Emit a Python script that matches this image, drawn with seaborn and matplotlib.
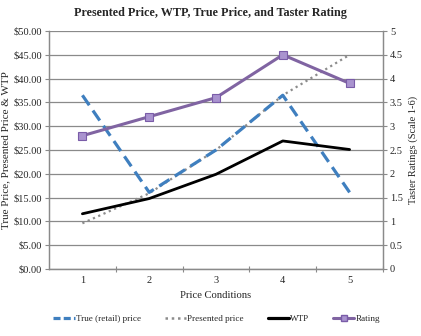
import matplotlib
matplotlib.use("Agg")
import matplotlib.pyplot as plt
import seaborn as sns
import pandas as pd
from matplotlib.lines import Line2D

conditions = [1, 2, 3, 4, 5]
true_price = [36.5, 16.1, 25.0, 36.5, 16.1]
presented_price = [9.6, 15.9, 25.0, 36.5, 45.0]
wtp = [11.6, 14.8, 19.9, 26.9, 25.1]
rating = [2.8, 3.2, 3.6, 4.5, 3.9]

df = pd.DataFrame({
    "cond": conditions,
    "true": true_price,
    "presented": presented_price,
    "wtp": wtp,
    "rating": rating,
})

sns.set_theme(style="white")
plt.rcParams["font.family"] = ["Liberation Serif", "DejaVu Serif"]

fig = plt.figure(figsize=(4.21, 3.36), dpi=100)
ax = fig.add_axes([49 / 421, 1 - 269 / 336, 334 / 421, 238 / 336])
ax2 = ax.twinx()

c_blue = "#3f7fbf"
c_gray = "#8c8c8c"
c_purple = "#8064a2"

sns.lineplot(data=df, x="cond", y="presented", ax=ax, color=c_gray, lw=1.6,
             linestyle=(0, (1, 1.6)))
sns.lineplot(data=df, x="cond", y="true", ax=ax, color=c_blue, lw=2.3,
             linestyle=(0, (3.8, 2.0)))
sns.lineplot(data=df, x="cond", y="wtp", ax=ax, color="black", lw=2.0)
sns.lineplot(data=df, x="cond", y="rating", ax=ax2, color=c_purple, lw=2.2,
             marker="s", markersize=6, markerfacecolor="#a993cf",
             markeredgecolor="#7a5ca8", markeredgewidth=0.8)

ax.set_xlim(0.5, 5.5)
ax.set_ylim(0, 50)
ax2.set_ylim(0, 5)
ax.set_yticks([i * 5 for i in range(11)])
ax.set_yticklabels([f"${i * 5:.2f}" for i in range(11)])
ax2.set_yticks([i * 0.5 for i in range(11)])
ax2.set_yticklabels(["0", "0.5", "1", "1.5", "2", "2.5", "3", "3.5", "4", "4.5", "5"])
ax.set_xticks(conditions)
ax.set_xticklabels([str(c) for c in conditions])
ax.set_xticks([1.5, 2.5, 3.5, 4.5, 5.5], minor=True)

ax.grid(axis="y", color="#8a8a8a", lw=0.9)
ax.set_axisbelow(True)
for a in (ax, ax2):
    for s in a.spines.values():
        s.set_color("#8a8a8a")
        s.set_linewidth(0.9)
    a.spines["top"].set_visible(False)

ax.tick_params(axis="y", which="major", direction="out", length=3, width=0.8,
               color="#8a8a8a", labelsize=7.5, pad=2, left=True)
ax2.tick_params(axis="y", which="major", direction="out", length=3, width=0.8,
                color="#8a8a8a", labelsize=7.5, pad=2, right=True)
ax.tick_params(axis="x", which="major", length=0, labelsize=7.5, pad=5)
ax.tick_params(axis="x", which="minor", direction="inout", length=4, width=0.8,
               color="#8a8a8a", bottom=True)

ax.set_xlabel("Price Conditions", fontsize=7.7, labelpad=4)
ax.set_ylabel("True Price, Presented Price & WTP", fontsize=8, labelpad=2)
ax2.set_ylabel("Taster Ratings (Scale 1-6)", fontsize=7.5, labelpad=4)

fig.text(0.5, 1 - 13 / 336, "Presented Price, WTP, True Price, and Taster Rating",
         ha="center", va="center", fontsize=8.7, fontweight="bold")

handles = [
    Line2D([], [], color=c_blue, lw=2.3, linestyle=(0, (2.2, 1.0))),
    Line2D([], [], color=c_gray, lw=1.8, linestyle=(0, (1, 1.5))),
    Line2D([], [], color="black", lw=2.3),
    Line2D([], [], color=c_purple, lw=2.2, marker="s", markersize=5,
           markerfacecolor="#a993cf", markeredgecolor="#7a5ca8"),
]
labels = ["True (retail) price", "Presented price", "WTP", "Rating"]
fig.legend(handles, labels, loc="center", bbox_to_anchor=(0.515, 1 - 319 / 336),
           ncol=4, frameon=False, fontsize=6.6, handlelength=2.3,
           handletextpad=0.15, columnspacing=2.6)

fig.savefig("out.png", dpi=100)
